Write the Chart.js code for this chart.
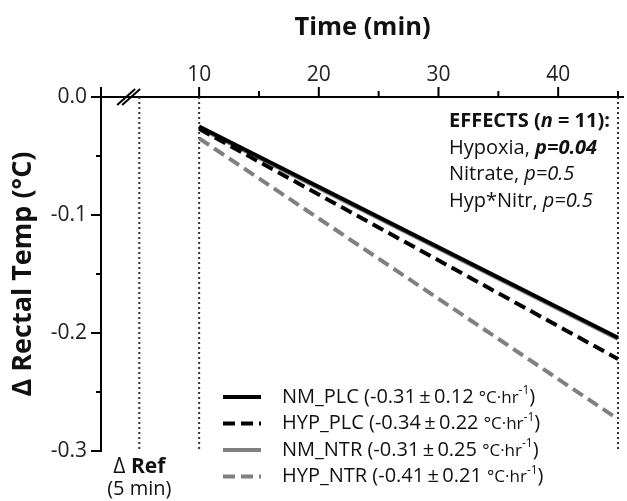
<!DOCTYPE html>
<html>
<head>
<meta charset="utf-8">
<script src="https://cdn.jsdelivr.net/npm/chart.js@4.4.0/dist/chart.umd.min.js"></script>
<style>
body { margin: 0; background: #fff; }
#wrap { width: 627px; height: 501px; position: relative; }
</style>
</head>
<body>
<div id="wrap"><canvas id="myChart"></canvas></div>
<script>
// regression lines, start (10 min) and end (45 min)
var times = [10, 45];
var seriesNames = ['NM_PLC', 'HYP_PLC', 'NM_NTR', 'HYP_NTR'];
var nmPlc = [-0.025, -0.204];
var hypPlc = [-0.027, -0.222];
var nmNtr = [-0.026, -0.205];
var hypNtr = [-0.035, -0.273];
var slopeMeans = ['-0.31', '-0.34', '-0.31', '-0.41'];
var slopeSds = ['0.12', '0.22', '0.25', '0.21'];

// dotted reference lines (Δ Ref at 5 min, start and end)
var refTimes = [5, 10, 45];

var xTicks = [10, 15, 20, 25, 30, 35, 40, 45];
var yTicks = [0, -0.05, -0.1, -0.15, -0.2, -0.25, -0.3];

var effectNames = ['Hypoxia', 'Nitrate', 'Hyp*Nitr'];
var effectP = ['0.04', '0.5', '0.5'];
var sampleSize = 11;

var FONT = '"Open Sans"';

function toPoints(vals) {
	return times.map(function(t, i) { return { x: t, y: vals[i] }; });
}

var datasets = [
	{ data: toPoints(nmPlc), borderColor: '#000', borderWidth: 4, borderDash: [] },
	{ data: toPoints(hypPlc), borderColor: '#000', borderWidth: 4, borderDash: [12, 6] },
	{ data: toPoints(nmNtr), borderColor: '#808080', borderWidth: 4, borderDash: [] },
	{ data: toPoints(hypNtr), borderColor: '#808080', borderWidth: 4, borderDash: [12, 6] }
];
refTimes.forEach(function(t) {
	datasets.push({
		data: [{ x: t, y: 0 }, { x: t, y: -0.3 }],
		borderColor: '#333', borderWidth: 2, borderDash: [2, 3]
	});
});
datasets.forEach(function(ds) {
	ds.pointRadius = 0;
	ds.fill = false;
	ds.tension = 0;
	ds.clip = false;
});

function line(ctx, x1, y1, x2, y2) {
	ctx.beginPath();
	ctx.moveTo(x1, y1);
	ctx.lineTo(x2, y2);
	ctx.stroke();
}

// draws a run of text pieces with different fonts
function runs(ctx, x, y, pieces) {
	pieces.forEach(function(p) {
		ctx.font = p[1];
		ctx.fillText(p[0], x, y + (p[2] || 0));
		x += ctx.measureText(p[0]).width;
	});
	return x;
}

var overlay = {
	id: 'overlay',
	afterDraw: function(chart) {
		var ctx = chart.ctx;
		var xs = chart.scales.x, ys = chart.scales.y;
		var area = chart.chartArea;
		ctx.save();
		ctx.strokeStyle = '#000';
		ctx.lineWidth = 2;
		ctx.setLineDash([]);
		// tick marks
		xTicks.forEach(function(v) {
			var px = xs.getPixelForValue(v);
			line(ctx, px, area.top, px, area.top - (v % 10 === 0 ? 10 : 6));
		});
		line(ctx, area.left, area.top, area.left, area.top - 10);
		yTicks.forEach(function(v) {
			var py = ys.getPixelForValue(v);
			var major = Math.abs(v * 10 - Math.round(v * 10)) < 1e-6;
			line(ctx, area.left, py, area.left - (major ? 10 : 5), py);
		});
		// axis break
		var bx = xs.getPixelForValue(3.9);
		line(ctx, bx - 9, area.top + 8, bx + 9, area.top - 8);
		line(ctx, bx - 4, area.top + 8, bx + 14, area.top - 8);

		// legend
		ctx.textAlign = 'left';
		ctx.textBaseline = 'middle';
		ctx.fillStyle = '#111';
		for (var i = 0; i < 4; i++) {
			var ds = chart.data.datasets[i];
			var y = 397 + i * 26.5;
			ctx.strokeStyle = ds.borderColor;
			ctx.lineWidth = ds.borderWidth;
			ctx.setLineDash(ds.borderDash);
			line(ctx, 223, y, 261, y);
			ctx.setLineDash([]);
			runs(ctx, 282, y, [
				[seriesNames[i] + ' (' + slopeMeans[i] + '\u2009\u00b1\u2009' + slopeSds[i] + ' ', '20px ' + FONT],
				['\u00b0C\u00b7hr', '17px ' + FONT, 1],
				['-1', '12px ' + FONT, -6],
				[')', '20px ' + FONT]
			]);
		}

		// effects box
		ctx.fillStyle = '#111';
		runs(ctx, 449, 121, [
			['EFFECTS (', 'bold 20px ' + FONT],
			['n', 'italic bold 20px ' + FONT],
			[' = ' + sampleSize + '):', 'bold 20px ' + FONT]
		]);
		for (var j = 0; j < effectNames.length; j++) {
			runs(ctx, 449, 148 + j * 26.5, [
				[effectNames[j] + ', ', '20px ' + FONT],
				['p=' + effectP[j], (j === 0 ? 'italic bold ' : 'italic ') + '20px ' + FONT]
			]);
		}

		// Δ Ref label
		var rx = xs.getPixelForValue(refTimes[0]);
		ctx.font = '21px ' + FONT;
		var w1 = ctx.measureText('\u0394 ').width;
		ctx.font = 'bold 21px ' + FONT;
		var w2 = ctx.measureText('Ref').width;
		runs(ctx, rx - (w1 + w2) / 2, 467, [
			['\u0394 ', '21px ' + FONT],
			['Ref', 'bold 21px ' + FONT]
		]);
		ctx.textAlign = 'center';
		ctx.font = '20px ' + FONT;
		ctx.fillText('(5 min)', rx, 489);
		ctx.restore();
	}
};

var ctx = document.getElementById('myChart').getContext('2d');
var chart = new Chart(ctx, {
	type: 'line',
	data: { datasets: datasets },
	plugins: [overlay],
	options: {
		responsive: true,
		maintainAspectRatio: false,
		animation: false,
		layout: { padding: { left: 0, top: 0, right: 0, bottom: 50 } },
		plugins: { legend: { display: false }, tooltip: { enabled: false } },
		scales: {
			x: {
				type: 'linear',
				position: 'top',
				min: 1.8,
				max: 45.5,
				afterFit: function(scale) { scale.height = 97; },
				afterBuildTicks: function(scale) {
					scale.ticks = xTicks.map(function(v) { return { value: v }; });
				},
				grid: { display: false, drawTicks: false },
				border: { display: true, color: '#000', width: 2 },
				ticks: {
					padding: 9,
					color: '#222',
					font: { family: FONT, size: 21 },
					maxRotation: 0,
					autoSkip: false,
					callback: function(v) { return v % 10 === 0 ? String(v) : ''; }
				},
				title: {
					display: true,
					text: 'Time (min)',
					color: '#111',
					font: { family: FONT, size: 25.5, weight: 'bold' },
					padding: { top: 12, bottom: 0 }
				}
			},
			y: {
				min: -0.3,
				max: 0,
				afterFit: function(scale) { scale.width = 101; },
				afterBuildTicks: function(scale) {
					scale.ticks = yTicks.map(function(v) { return { value: v }; });
				},
				grid: { display: false, drawTicks: false },
				border: { display: true, color: '#000', width: 2 },
				ticks: {
					padding: 14,
					color: '#222',
					font: { family: FONT, size: 21 },
					autoSkip: false,
					callback: function(v) {
						return Math.abs(v * 10 - Math.round(v * 10)) < 1e-6 ? v.toFixed(1) : '';
					}
				},
				title: {
					display: true,
					text: '\u0394 Rectal Temp (\u00b0C)',
					color: '#111',
					font: { family: FONT, size: 27, weight: 'bold' },
					padding: { top: 7, bottom: 0 }
				}
			}
		}
	}
});
</script>
</body>
</html>
